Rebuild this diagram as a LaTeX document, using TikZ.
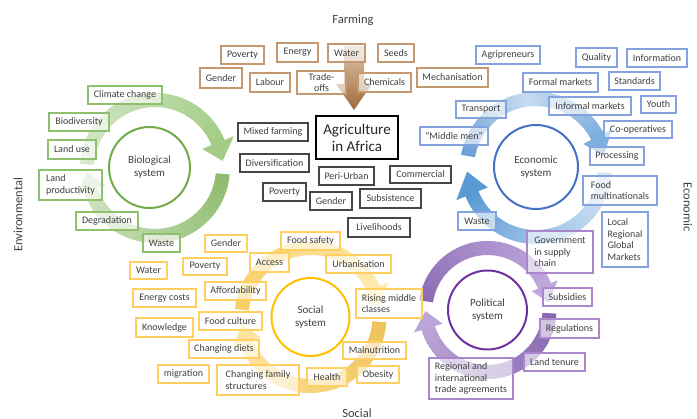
\documentclass[tikz,border=0pt]{standalone}
\usepackage{fontspec}
\setmainfont{Carlito}
\definecolor{txt}{HTML}{404040}
\definecolor{cbrn}{RGB}{196,152,112}
\definecolor{cgrn}{RGB}{142,192,110}
\definecolor{cblu}{RGB}{132,163,222}
\definecolor{cpur}{RGB}{170,134,204}
\definecolor{cyel}{RGB}{255,208,96}
\definecolor{cblk}{RGB}{70,70,70}
\definecolor{sgrn}{HTML}{70AD47}
\definecolor{sblu}{HTML}{4472C4}
\definecolor{spur}{HTML}{7030A0}
\definecolor{syel}{HTML}{FFC000}
% arc colours
\definecolor{gA}{HTML}{D9E9CE}\definecolor{gB}{HTML}{A3CD86}
\definecolor{gC}{HTML}{8DBB6C}\definecolor{gD}{HTML}{CFE4C1}
\definecolor{bA}{HTML}{6A9FD4}\definecolor{bM}{HTML}{C6DCF1}\definecolor{bB}{HTML}{7DB0DE}
\definecolor{bC}{HTML}{D5E5F4}\definecolor{bN}{HTML}{A3C7E8}\definecolor{bD}{HTML}{5A9AD4}
\definecolor{pA}{HTML}{8A6AB3}\definecolor{pM}{HTML}{A88DCB}\definecolor{pB}{HTML}{BFA7DB}
\definecolor{pC}{HTML}{8666AE}\definecolor{pD}{HTML}{BBA4D8}
\definecolor{yA}{HTML}{F7CF63}\definecolor{yB}{HTML}{FDE9B0}
\definecolor{yC}{HTML}{EDC25A}\definecolor{yD}{HTML}{FCE4A0}
\definecolor{brA}{RGB}{220,198,172}\definecolor{brB}{RGB}{160,106,58}
% band: #1 centre "x,y", #2 radius, #3 width, #4 start angle, #5 end angle, #6 start colour, #7 end colour
\newcommand\ringband[7]{%
  \begin{scope}[shift={(#1)}]
    \pgfmathsetmacro\rin{#2-#3/2}\pgfmathsetmacro\rout{#2+#3/2}
    \foreach \k in {0,...,39}{
      \pgfmathsetmacro\aa{#4+(#5-#4)*\k/40}
      \pgfmathsetmacro\ab{#4+(#5-#4)*(\k+1.2)/40}
      \pgfmathtruncatemacro\mx{100-100*(\k+0.5)/40}
      \fill[#6!\mx!#7] (\aa:\rout) -- (\ab:\rout) -- (\ab:\rin) -- (\aa:\rin) -- cycle;
    }
  \end{scope}}
% head: #1 centre, #2 radius, #3 half width, #4 base angle, #5 tip angle, #6 colour
\newcommand\ringhead[6]{%
  \begin{scope}[shift={(#1)}]
    \pgfmathsetmacro\hin{#2-#3}\pgfmathsetmacro\hout{#2+#3}
    \fill[#6] (#4:\hin) -- (#4:\hout) -- (#5:#2) -- cycle;
  \end{scope}}
\tikzset{
  wh/.style 2 args={minimum width=#1pt, minimum height=#2pt},
  bx/.style={draw, line width=1.1pt, fill=white, fill opacity=0.6, text opacity=1, text=txt,
    font=\fontsize{10}{11.5}\selectfont, inner xsep=3pt, inner ysep=1pt, align=left},
  brnbox/.style={bx, draw=cbrn},
  grnbox/.style={bx, draw=cgrn},
  blubox/.style={bx, draw=cblu},
  purbox/.style={bx, draw=cpur},
  yelbox/.style={bx, draw=cyel},
  blkbox/.style={bx, draw=cblk, line width=1.3pt},
  sysc/.style={circle, draw, fill=white, line width=2pt, text=txt, font=\fontsize{11}{13}\selectfont,
    align=center, inner sep=0pt},
  ttl/.style={text=txt, font=\fontsize{12.5}{14}\selectfont, inner sep=0pt},
}
\begin{document}
\begin{tikzpicture}[x=1pt,y=-1pt]
\fill[white] (0,0) rectangle (697,419);
\useasboundingbox (0,0) rectangle (697,419);

% ---------- rings ----------
% green
\ringband{155,168}{68}{14}{183}{338}{gA}{gB}
\ringhead{155,168}{68}{17}{338}{354}{gB}
\ringband{155,168}{68}{14}{5}{161}{gC}{gD}
\ringhead{155,168}{68}{15}{161}{177}{gD}
% blue
\ringband{536,168}{69}{14}{190}{262}{bA}{bM}
\ringband{536,168}{69}{14}{262}{333}{bM}{bB}
\ringhead{536,168}{69}{16}{333}{350}{bB}
\ringband{536,168}{69}{14}{4}{80}{bC}{bN}
\ringband{536,168}{69}{14}{80}{158}{bN}{bD}
\ringhead{536,168}{69}{17}{158}{177}{bD}
% purple
\ringband{487.5,310}{62}{14}{188}{262}{pA}{pM}
\ringband{487.5,310}{62}{14}{262}{337}{pM}{pB}
\ringhead{487.5,310}{62}{14}{337}{353}{pB}
\ringband{487.5,310}{62}{14}{3}{163}{pC}{pD}
\ringhead{487.5,310}{62}{15}{163}{179}{pD}
% yellow
\ringband{310.5,317}{69}{14}{186}{336}{yA}{yB}
\ringhead{310.5,317}{69}{16}{336}{352}{yB}
\ringband{310.5,317}{69}{14}{4}{158}{yC}{yD}
\ringhead{310.5,317}{69}{15}{158}{174}{yD}

% ---------- farming arrow ----------
\shade[top color=brA, bottom color=brB] (344,46) -- (364,46) -- (364,84) -- (372,84) -- (354,110) -- (336,84) -- (344,84) -- cycle;

% ---------- titles ----------
\node[ttl] (tfarm) at (353,20) {Farming};
\node[ttl, rotate=90] (tenv) at (18,215) {Environmental};
\node[ttl, rotate=-90] (teco) at (688,207) {Economic};
\node[ttl] (tsoc) at (357,413) {Social};

% ---------- system circles ----------
\node[sysc, draw=sgrn, minimum size=81pt] (bio) at (149.5,167.5) {Biological\\system};
\node[sysc, draw=sblu, minimum size=84pt] (eco) at (536,167) {Economic\\system};
\node[sysc, draw=spur, minimum size=79pt] (pol) at (487.5,310) {Political\\system};
\node[sysc, draw=syel, minimum size=78pt] (soc) at (310.5,317) {Social\\system};

% ---------- farming boxes ----------
\node[brnbox, wh={43}{18}] (fpov) at (242.5,55) {Poverty};
\node[brnbox, wh={41}{19}] (fene) at (297.5,52.5) {Energy};
\node[brnbox, wh={37}{18}] (fwat) at (346.5,53) {Water};
\node[brnbox, wh={36}{18}] (fsee) at (396,53) {Seeds};
\node[brnbox, wh={42}{20}] (fgen) at (221,78) {Gender};
\node[brnbox, wh={40}{19}] (flab) at (270,82.5) {Labour};
\node[brnbox, wh={49}{23}, align=center, font=\fontsize{10}{10.5}\selectfont] (ftra) at (321.5,82.5) {Trade-\\offs};
\node[brnbox, wh={53}{19}] (fche) at (384.5,82.5) {Chemicals};
\node[brnbox, wh={71}{19}] (fmec) at (452.5,77.5) {Mechanisation};

% ---------- centre ----------
\node[draw=black, line width=2.2pt, fill=white, text=black!85, align=center,
  font=\fontsize{15}{17}\selectfont, wh={82}{43}, inner sep=1pt] (agri) at (357,137.5) {Agriculture\\in Africa};
\node[blkbox, wh={70}{18}] (kmix) at (273,132) {Mixed farming};
\node[blkbox, wh={69}{18}] (kdiv) at (274.5,163) {Diversification};
\node[blkbox, wh={55}{18}] (kper) at (346.5,176) {Peri-Urban};
\node[blkbox, wh={61}{17}] (kcom) at (420.5,174.5) {Commercial};
\node[blkbox, wh={43}{18}] (kpov) at (284.5,192) {Poverty};
\node[blkbox, wh={42}{18}] (kgen) at (331,201) {Gender};
\node[blkbox, wh={61}{19}] (ksub) at (390.5,198.5) {Subsistence};
\node[blkbox, wh={62}{19}] (kliv) at (379,227.5) {Livelihoods};

% ---------- environmental ----------
\node[grnbox, wh={74}{18}] (gcli) at (125,95) {Climate change};
\node[grnbox, wh={60}{18}] (gbio) at (79,122) {Biodiversity};
\node[grnbox, wh={48}{19}] (glan) at (72,149.5) {Land use};
\node[grnbox, wh={63}{30}] (gpro) at (70.5,185) {Land\\productivity};
\node[grnbox, wh={62}{18}] (gdeg) at (107,221) {Degradation};
\node[grnbox, wh={37}{18}] (gwas) at (161.5,243) {Waste};

% ---------- social ----------
\node[yelbox, wh={42}{17}] (ygen) at (226,243.5) {Gender};
\node[yelbox, wh={37}{17}] (ywat) at (148.5,270.5) {Water};
\node[yelbox, wh={44}{17}] (ypov) at (205,266.5) {Poverty};
\node[yelbox, wh={63}{18}] (yene) at (164.5,298) {Energy costs};
\node[yelbox, wh={61}{18}] (yaff) at (235.5,291) {Affordability};
\node[yelbox, wh={57}{19}] (ykno) at (164.5,327.5) {Knowledge};
\node[yelbox, wh={63}{18}] (yfoo) at (230.5,321) {Food culture};
\node[yelbox, wh={70}{18}] (ycha) at (224,349) {Changing diets};
\node[yelbox, wh={51}{18}] (ymig) at (183.5,374) {migration};
\node[yelbox, wh={82}{30}] (yfam) at (258,380) {Changing family\\structures};
\node[yelbox, wh={39}{19}] (yacc) at (269.5,262.5) {Access};
\node[yelbox, wh={59}{18}] (ysaf) at (310.5,241) {Food safety};
\node[yelbox, wh={65}{18}] (yurb) at (358.5,264) {Urbanisation};
\node[yelbox, wh={66}{29}] (yris) at (389,303.5) {Rising middle\\classes};
\node[yelbox, wh={63}{17}] (ymal) at (374.5,350.5) {Malnutrition};
\node[yelbox, wh={40}{18}] (yhea) at (327,377) {Health};
\node[yelbox, wh={42}{17}] (yobe) at (378,374.5) {Obesity};

% ---------- economic ----------
\node[blubox, wh={64}{18}] (bagr) at (508,55) {Agripreneurs};
\node[blubox, wh={41}{19}] (bqua) at (596.5,57.5) {Quality};
\node[blubox, wh={60}{18}] (binf) at (657,58) {Information};
\node[blubox, wh={75}{19}] (bfor) at (560.5,82.5) {Formal markets};
\node[blubox, wh={51}{18}] (bsta) at (634.5,81) {Standards};
\node[blubox, wh={82}{18}] (binm) at (590,106) {Informal markets};
\node[blubox, wh={35}{17}] (byou) at (658.5,104.5) {Youth};
\node[blubox, wh={50}{17}] (btra) at (481,109.5) {Transport};
\node[blubox, wh={68}{17}] (bcoo) at (638,129.5) {Co-operatives};
\node[blubox, wh={68}{18}] (bmid) at (454,136) {“Middle men”};
\node[blubox, wh={54}{18}] (bpro) at (617,156) {Processing};
\node[blubox, wh={74}{29}] (bfoo) at (620,190.5) {Food\\multinationals};
\node[blubox, wh={46}{55}] (bloc) at (625,239.5) {Local\\Regional\\Global\\Markets};
\node[blubox, wh={38}{18}] (bwas) at (477,221) {Waste};

% ---------- political ----------
\node[purbox, wh={66}{42}] (pgov) at (560,252) {Government\\in supply\\chain};
\node[purbox, wh={49}{18}] (psub) at (567.5,297) {Subsidies};
\node[purbox, wh={59}{19}] (preg) at (569.5,328.5) {Regulations};
\node[purbox, wh={61}{18}] (plan) at (554.5,362) {Land tenure};
\node[purbox, wh={84}{41}] (ptra) at (471,378.5) {Regional and\\international\\trade agreements};
\end{tikzpicture}
\end{document}
